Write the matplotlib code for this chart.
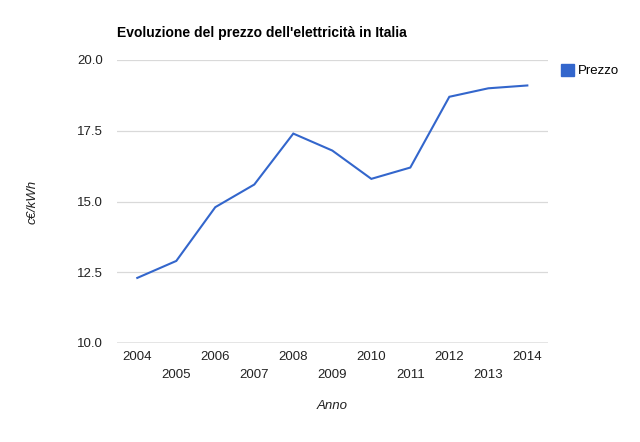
import matplotlib.pyplot as plt
from matplotlib.patches import Patch

years = [2004, 2005, 2006, 2007, 2008, 2009, 2010, 2011, 2012, 2013, 2014]
prezzo = [12.3, 12.9, 14.8, 15.6, 17.4, 16.8, 15.8, 16.2, 18.7, 19.0, 19.1]
y_ticks = [10.0, 12.5, 15.0, 17.5, 20.0]

plt.rcParams["font.family"] = ["Liberation Sans", "DejaVu Sans"]

fig = plt.figure(figsize=(6.4, 4.42), dpi=100)
ax = fig.add_axes([117 / 640, 99 / 442, 431 / 640, 283 / 442])

ax.plot(years, prezzo, color="#3366cc", linewidth=1.5, solid_joinstyle="miter")

ax.set_xlim(2003.48, 2014.53)
ax.set_ylim(10, 20)
ax.set_yticks(y_ticks)
ax.set_yticklabels([f"{v:.1f}" for v in y_ticks])
ax.set_xticks(years)
# alternate labels on two rows, like the original
ax.set_xticklabels([str(y) if i % 2 == 0 else "\n" + str(y) for i, y in enumerate(years)],
                   linespacing=1.6)

for v in y_ticks[1:]:
    ax.axhline(v, color="#d9d9d9", linewidth=0.9, zorder=0)
ax.axhline(10, color="#333333", linewidth=0.9, zorder=1)

for s in ax.spines.values():
    s.set_visible(False)
ax.tick_params(axis="both", length=0, labelsize=9.5, colors="#222222")
ax.tick_params(axis="y", pad=10)
ax.tick_params(axis="x", pad=6)

ax.set_xlabel("Anno", fontsize=9.5, style="italic", color="#222222", labelpad=14)
ax.set_ylabel("c€/kWh", fontsize=9.5, style="italic", color="#222222", labelpad=28)

fig.text(117 / 640, 1 - 33 / 442, "Evoluzione del prezzo dell'elettricità in Italia",
         fontsize=10, fontweight="bold", va="center", ha="left")

fig.legend(handles=[Patch(facecolor="#3366cc", edgecolor="#3366cc", label="Prezzo")],
           loc="upper left", bbox_to_anchor=(549 / 640, 1 - 52 / 442),
           frameon=False, fontsize=9.5, handlelength=1.0, handleheight=1.0,
           handletextpad=0.3)

fig.savefig("out.png", dpi=100)
